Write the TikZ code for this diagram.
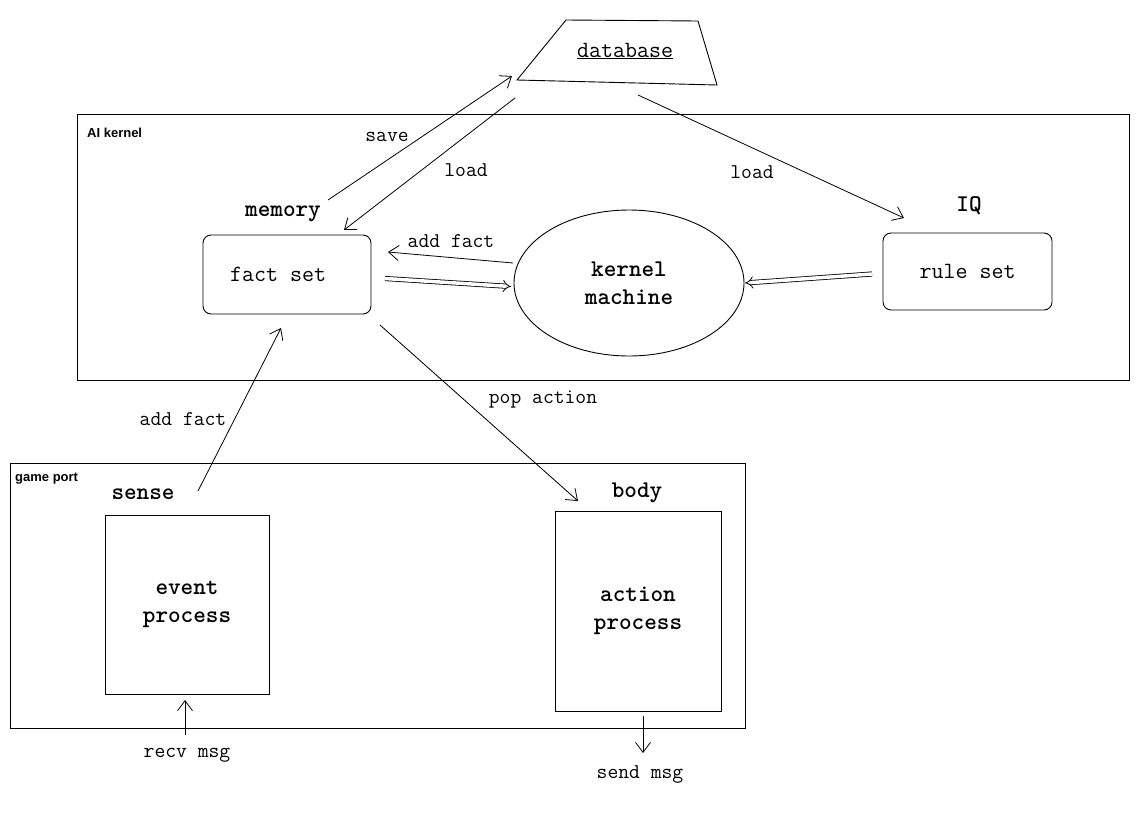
\documentclass[tikz,border=0pt]{standalone}
\usepackage{fontspec}
\setmainfont{Liberation Serif}
\setsansfont{Liberation Sans}
\usetikzlibrary{arrows.meta,shapes.geometric}
\begin{document}
\begin{tikzpicture}[x=1pt,y=-1pt,
  lbl/.style={font=\ttfamily\fontsize{21}{23}\selectfont, inner sep=0pt},
  blbl/.style={font=\ttfamily\bfseries\fontsize{24}{28}\selectfont, inner sep=0pt, align=center},
  tlbl/.style={font=\ttfamily\fontsize{23.3}{26}\selectfont},
  grp/.style={font=\sffamily\bfseries\fontsize{13}{15}\selectfont, inner sep=0pt, anchor=base west},
  frame/.style={draw, line width=0.9pt, inner sep=0pt},
  rbox/.style={draw, line width=0.9pt, rounded corners=8pt, inner sep=0pt},
  conn/.style={line width=0.8pt, -{Straight Barb[length=10pt,width=15pt,line width=0.8pt]}},
  dbl/.style={line width=0.8pt, double, double distance=3.5pt, -{Implies[length=9pt,width=14pt]}}
]
\useasboundingbox (0,0) rectangle (1142,825);
\fill[white] (0,0) rectangle (1142,825);

% groups
\node[frame, minimum width=1052pt, minimum height=266pt, anchor=north west] (aik) at (77,114) {};
\node[grp] (aiklbl) at (87,137) {AI kernel};
\node[frame, minimum width=735pt, minimum height=265pt, anchor=north west] (gp) at (10,463) {};
\node[grp] (gplbl) at (15,481) {game port};

% database
\coordinate (d1) at (566,20);
\coordinate (d2) at (698,21);
\coordinate (d3) at (717,85);
\coordinate (d4) at (517,80);
\draw[line width=0.9pt] (d1) -- (d2) -- (d3) -- (d4) -- cycle;
\node[tlbl, inner sep=0pt] (db) at (625,51) {\underline{database}};

% AI kernel contents
\node[rbox, minimum width=168pt, minimum height=79pt, tlbl] (fs) at (287,274.5) {fact set\kern18pt};
\node[blbl] (mem) at (283,214) {memory};
\node[draw, ellipse, line width=0.9pt, minimum width=230pt, minimum height=146pt, inner sep=0pt, blbl] (km) at (629,283) {kernel\\machine};
\node[rbox, minimum width=169pt, minimum height=77pt, tlbl] (rs) at (967.5,271.5) {rule set};
\node[blbl] (iq) at (969,206) {IQ};

% game port contents
\node[blbl] (sense) at (143,494) {sense};
\node[frame, minimum width=164pt, minimum height=179pt, blbl] (ep) at (187,604.5) {event\\process};
\node[blbl] (body) at (637,493) {body};
\node[frame, minimum width=166pt, minimum height=200pt, blbl] (ap) at (638,611) {action\\process};

% connector end points
\coordinate (saveA) at (328,200);
\coordinate (saveB) at (512,76);
\coordinate (loadA) at (515,98);
\coordinate (loadB) at (344,230);
\coordinate (loadC) at (638,95);
\coordinate (loadD) at (904,218);
\coordinate (afA) at (513,263);
\coordinate (afB) at (388,252);
\coordinate (dfA) at (385,278.5);
\coordinate (dfB) at (511,286.5);
\coordinate (drA) at (872,274);
\coordinate (drB) at (745,283);
\coordinate (popA) at (380,325);
\coordinate (popB) at (578,501);
\coordinate (af2A) at (198,491);
\coordinate (af2B) at (281,328);
\coordinate (recvA) at (185,735);
\coordinate (recvB) at (185,700);
\coordinate (sendA) at (643,716);
\coordinate (sendB) at (643,753);

\draw[conn] (saveA) -- (saveB);
\draw[conn] (loadA) -- (loadB);
\draw[conn] (loadC) -- (loadD);
\draw[conn] (afA) -- (afB);
\draw[dbl] (dfA) -- (dfB);
\draw[dbl] (drA) -- (drB);
\draw[conn] (popA) -- (popB);
\draw[conn] (af2A) -- (af2B);
\draw[conn] (recvA) -- (recvB);
\draw[conn] (sendA) -- (sendB);

% connector labels
\node[lbl] (lsave) at (387,137) {save};
\node[lbl] (lload1) at (466,170) {load};
\node[lbl] (lload2) at (752,172) {load};
\node[lbl] (laf1) at (451,241) {add fact};
\node[lbl] (lpop) at (543,400) {pop action};
\node[lbl] (laf2) at (183,419) {add fact};
\node[lbl] (lrecv) at (187,755) {recv msg};
\node[lbl] (lsend) at (640,774) {send msg};
\end{tikzpicture}
\end{document}
